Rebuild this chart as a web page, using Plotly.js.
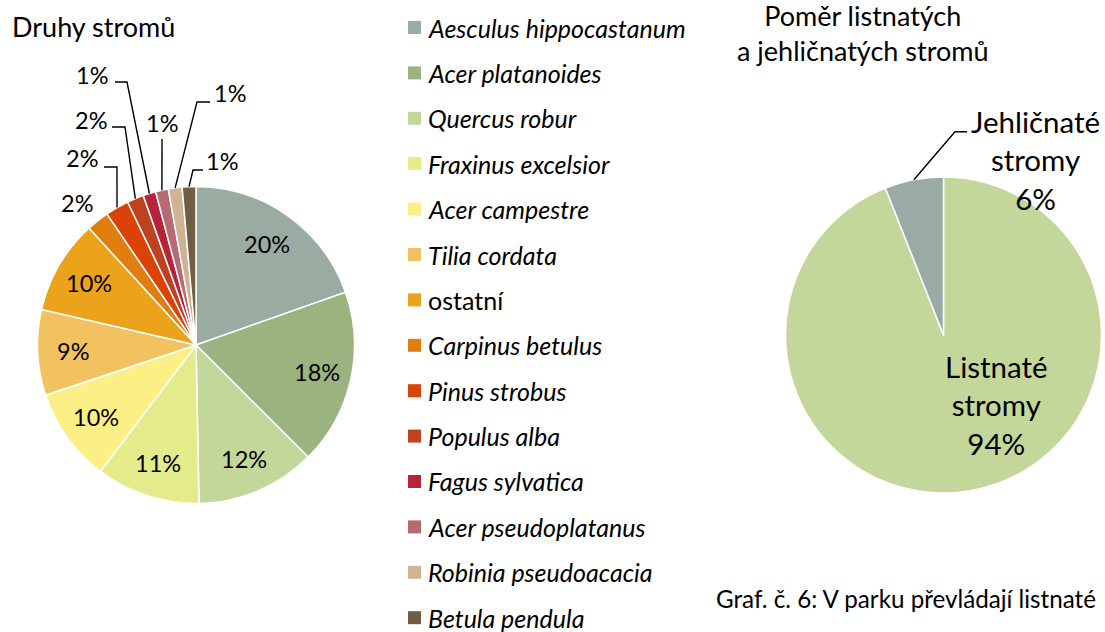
<!DOCTYPE html>
<html><head><meta charset="utf-8">
<script src="https://cdn.plot.ly/plotly-3.0.1.min.js"></script>
<style>body{margin:0;background:#fff}#chart{width:1105px;height:632px}</style>
</head><body><div id="chart"></div>
<script>
// ---- data ----
const speciesLabels = ['Aesculus hippocastanum','Acer platanoides','Quercus robur','Fraxinus excelsior','Acer campestre','Tilia cordata','ostatní','Carpinus betulus','Pinus strobus','Populus alba','Fagus sylvatica','Acer pseudoplatanus','Robinia pseudoacacia','Betula pendula'];
const speciesValues = [19.6, 17.9, 12.2, 10.6, 9.6, 8.7, 9.6, 2.3, 2.4, 1.7, 1.3, 1.3, 1.4, 1.4];
const speciesColors = ['#9AABA2','#9BB37F','#C4D79B','#E3EB8B','#FCEF86','#F2C160','#EBA31C','#E07E10','#DA4207','#BE4120','#B6243A','#B86A72','#CFB393','#6F5D44'];
const typeLabels = ['Listnaté stromy','Jehličnaté stromy'];
const typeValues = [94, 6];
const typeColors = ['#C4D79B','#99ABA4'];
const leftTitle = 'Druhy stromů';
const rightTitle = 'Poměr listnatých<br>a jehličnatých stromů';
const caption = 'Graf. č. 6: V parku převládají listnaté';

// ---- layout helpers ----
const W = 1105, H = 632;
const FONT = 'Lato, Carlito, Calibri, sans-serif';
const px = x => x / W, py = y => 1 - y / H;
const L = {cx: 196, cy: 345, r: 158.5};
const R = {cx: 943.5, cy: 335, r: 158};
const dom = c => ({x: [px(c.cx - c.r), px(c.cx + c.r)], y: [py(c.cy + c.r), py(c.cy - c.r)]});
function mids(vals){ const t = vals.reduce((a,b)=>a+b,0); let c = 0; return vals.map(v => { const m = (c + v/2)/t*360; c += v; return m; }); }
function pcts(vals){ const t = vals.reduce((a,b)=>a+b,0); return vals.map(v => Math.round(v/t*100)); }
function pt(c, deg, k){ const a = deg*Math.PI/180; return [c.cx + k*c.r*Math.sin(a), c.cy - k*c.r*Math.cos(a)]; }
const pathOf = pts => pts.map((p,i)=>(i?'L':'M')+px(p[0]).toFixed(5)+','+py(p[1]).toFixed(5)).join(' ');

const annotations = [], shapes = [];
function txt(x, y, text, size, anchor){ annotations.push({xref:'paper', yref:'paper', x:px(x), y:py(y), text:text, showarrow:false, xanchor:anchor||'center', yanchor:'middle', font:{family:FONT, size:size, color:'#000'}}); }

// left pie labels
const lm = mids(speciesValues), lp = pcts(speciesValues);
// label placement for small slices (index 7..13): text centre and leader elbow points (px)
const smallPos = [
  {x:77, y:203, line:null},
  {x:82, y:158, line:[[104,167],[117,167]]},
  {x:91, y:120, line:[[112,127],[125,127]]},
  {x:92, y:75, line:[[115,82],[127,82]]},
  {x:162, y:123, line:[[162,139]]},
  {x:230, y:93, line:[[210,102],[197,102]]},
  {x:222, y:161, line:[[203,170],[193,170]]}
];
speciesValues.forEach((v,i) => {
  if (i < 7) {
    const p = pt(L, lm[i], 0.78);
    txt(p[0], p[1], lp[i] + '%', 23.5);
  } else {
    const s = smallPos[i-7];
    txt(s.x, s.y, lp[i] + '%', 23.5);
    if (s.line) {
      shapes.push({type:'path', xref:'paper', yref:'paper', path: pathOf(s.line.concat([pt(L, lm[i], 1.0)])), line:{color:'#000', width:1.4}});
    }
  }
});

// legend (drawn beside the left pie)
speciesLabels.forEach((lab,i) => {
  const yc = 27.5 + i*45.4;
  shapes.push({type:'rect', xref:'paper', yref:'paper', x0:px(408), x1:px(421), y0:py(yc+6.5), y1:py(yc-6.5), fillcolor:speciesColors[i], line:{width:0}});
  txt(426, yc, lab === 'ostatní' ? lab : '<i>' + lab + '</i>', 25, 'left');
});

// right pie labels
const rm = mids(typeValues), rp = pcts(typeValues);
txt(996, 405, typeLabels[0].replace(' ', '<br>') + '<br>' + rp[0] + '%', 29.5);
txt(1035, 160, typeLabels[1].replace(' ', '<br>') + '<br>' + rp[1] + '%', 29.5);
shapes.push({type:'path', xref:'paper', yref:'paper', path: pathOf([[967,131.7],[955,131.7], pt(R, rm[1], 1.0)]), line:{color:'#000', width:1.4}});

// titles & caption
txt(10, 26.5, leftTitle, 27, 'left');
txt(862.5, 33.5, rightTitle, 27);
txt(714, 598.5, caption, 24.2, 'left');

const data = [
  {type:'pie', labels:speciesLabels, values:speciesValues, sort:false, direction:'clockwise', rotation:0,
   marker:{colors:speciesColors, line:{color:'#ffffff', width:1.5}}, textinfo:'none', showlegend:false,
   domain:dom(L), hoverinfo:'label+percent'},
  {type:'pie', labels:typeLabels, values:typeValues, sort:false, direction:'clockwise', rotation:0,
   marker:{colors:typeColors, line:{color:'#ffffff', width:1.5}}, textinfo:'none', showlegend:false,
   domain:dom(R), hoverinfo:'label+percent'}
];
const layout = {width:W, height:H, margin:{l:0,r:0,t:0,b:0}, paper_bgcolor:'#fff', showlegend:false,
  font:{family:FONT, color:'#000'}, annotations:annotations, shapes:shapes};
Plotly.newPlot('chart', data, layout, {displayModeBar:false, staticPlot:true});
</script></body></html>
